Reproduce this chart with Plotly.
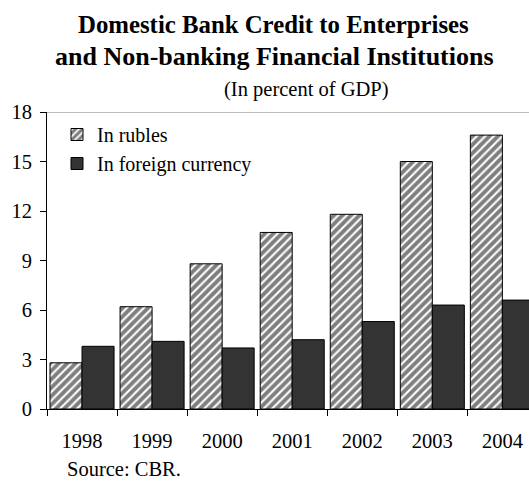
import plotly.graph_objects as go

# Domestic bank credit, percent of GDP
years = ["1998", "1999", "2000", "2001", "2002", "2003", "2004"]
in_rubles = [2.8, 6.2, 8.8, 10.7, 11.8, 15.0, 16.6]
in_foreign_currency = [3.8, 4.1, 3.7, 4.2, 5.3, 6.3, 6.6]
y_ticks = [0, 3, 6, 9, 12, 15, 18]

SERIF = "Liberation Serif, Times New Roman, serif"

fig = go.Figure()
fig.add_trace(go.Bar(
    x=years, y=in_rubles, name="In rubles",
    marker=dict(
        color="white",
        line=dict(color="black", width=1),
        pattern=dict(shape="/", fgcolor="black", bgcolor="white",
                     size=6, solidity=0.65),
    ),
))
fig.add_trace(go.Bar(
    x=years, y=in_foreign_currency, name="In foreign currency",
    marker=dict(color="#333333", line=dict(color="black", width=1)),
))

# plot-area geometry in pixels (used to place the header text)
L, T, B, W, H = 47, 112, 72, 529, 481
ph = H - T - B
pw = W - L


def py(px_y):
    return (H - B - px_y) / ph


def px(px_x):
    return (px_x - L) / pw


fig.update_layout(
    width=W, height=H,
    margin=dict(l=L, r=0, t=T, b=B),
    paper_bgcolor="white", plot_bgcolor="white",
    barmode="group", bargap=0.086, bargroupgap=0,
    font=dict(family=SERIF, size=20, color="black"),
    showlegend=True,
    legend=dict(
        x=px(57), y=py(115), xanchor="left", yanchor="top",
        bgcolor="rgba(0,0,0,0)", font=dict(size=20),
        tracegroupgap=0,
    ),
    xaxis=dict(
        type="category", range=[-0.5, 6.38],
        showline=True, linecolor="black", linewidth=1,
        ticks="outside", ticklen=6, tickcolor="black",
        tickson="boundaries", showgrid=False, zeroline=False,
        tickfont=dict(size=20.5), ticklabelstandoff=13,
    ),
    yaxis=dict(
        range=[0, 18], tickvals=y_ticks,
        showline=True, linecolor="black", linewidth=1,
        ticks="outside", ticklen=6, tickcolor="black",
        showgrid=False, zeroline=False,
        tickfont=dict(size=20.5), ticklabelstandoff=4,
    ),
    shapes=[dict(
        type="line", xref="paper", yref="y", x0=0, x1=1, y0=18, y1=18,
        line=dict(color="#7f7f7f", width=1),
    )],
    annotations=[
        dict(text="<b>Domestic Bank Credit to Enterprises</b>",
             xref="paper", yref="paper", x=px(273), y=py(24.5),
             xanchor="center", yanchor="middle", showarrow=False,
             font=dict(size=24.8)),
        dict(text="<b>and Non-banking Financial Institutions</b>",
             xref="paper", yref="paper", x=px(274), y=py(56.5),
             xanchor="center", yanchor="middle", showarrow=False,
             font=dict(size=26)),
        dict(text="(In percent of GDP)",
             xref="paper", yref="paper", x=px(306), y=py(89),
             xanchor="center", yanchor="middle", showarrow=False,
             font=dict(size=20.5)),
        dict(text="Source: CBR.",
             xref="paper", yref="paper", x=px(65), y=py(469),
             xanchor="left", yanchor="middle", showarrow=False,
             font=dict(size=20.5)),
    ],
)

fig.write_html("out.html")
